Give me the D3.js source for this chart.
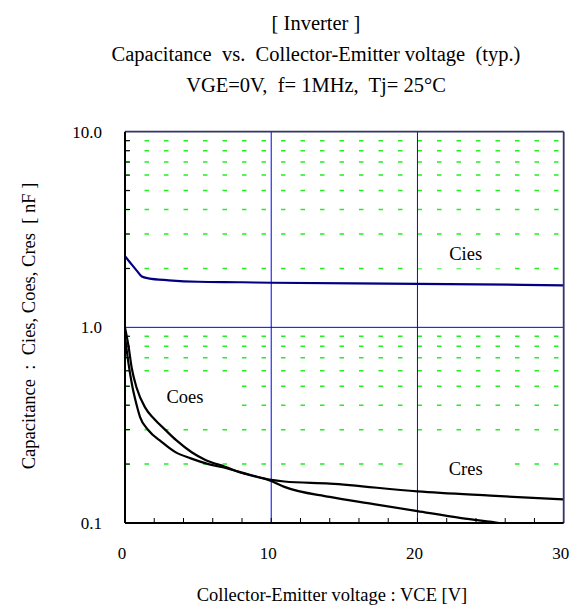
<!DOCTYPE html>
<html>
<head>
<meta charset="utf-8">
<script src="https://cdn.jsdelivr.net/npm/d3@7"></script>
<style>
    body { margin: 0; background: #fff; }
</style>
</head>
<body>
<svg id="chart" width="571" height="610" font-family="'Liberation Serif', Tinos, 'Times New Roman', Times, serif"></svg>
<script>
// Values
let titleLines = ["[ Inverter ]", "Capacitance  vs.  Collector-Emitter voltage  (typ.)", "VGE=0V,  f= 1MHz,  Tj= 25°C"];
let xTicks = [0, 10, 20, 30];
let yTicks = [0.1, 1, 10];
let yTickLabels = ["0.1", "1.0", "10.0"];

let ciesV = [0, 0.4, 0.8, 1.15, 1.6, 3, 5, 8, 10, 20, 30];
let cies = [2.31, 2.12, 1.95, 1.82, 1.78, 1.74, 1.71, 1.70, 1.69, 1.67, 1.64];

let coesV = [0, 0.23, 0.46, 0.8, 1.37, 2, 2.74, 3.5, 4.56, 5.5, 6.84, 8, 10, 10.9, 14, 17, 20, 23, 25.6, 28];
let coes = [1.0, 0.81, 0.62, 0.49, 0.39, 0.34, 0.30, 0.265, 0.23, 0.21, 0.194, 0.18, 0.164, 0.153, 0.136, 0.125, 0.115, 0.106, 0.1, 0.094];

let cresV = [0, 0.23, 0.5, 0.8, 1.03, 1.6, 2.5, 3.42, 4.5, 5.7, 7, 8, 10, 10.9, 14, 20, 25, 30];
let cres = [0.9, 0.66, 0.5, 0.4, 0.348, 0.298, 0.26, 0.231, 0.214, 0.2, 0.19, 0.181, 0.166, 0.163, 0.159, 0.145, 0.138, 0.132];

let labels = [
    { text: "Cies", v: 23.3, c: 2.2 },
    { text: "Coes", v: 4.1, c: 0.41 },
    { text: "Cres", v: 23.3, c: 0.175 }
];

let margin = { top: 131.7, right: 7.3, bottom: 87, left: 125 };
let width = 571 - margin.left - margin.right;
let height = 610 - margin.top - margin.bottom;

let svg = d3.select("#chart");

// Titles
svg.selectAll(".title")
    .data(titleLines)
    .enter().append("text")
    .attr("class", "title")
    .attr("x", 316)
    .attr("y", (d, i) => 30 + i * 31)
    .attr("text-anchor", "middle")
    .attr("xml:space", "preserve")
    .style("font-size", "20.5px")
    .text(d => d);

let g = svg.append("g")
    .attr("transform", `translate(${margin.left},${margin.top})`);

let x = d3.scaleLinear().domain([0, 30]).range([0, width]);
let y = d3.scaleLog().domain([0.1, 10]).range([height, 0]);

// minor log values
let minors = [];
[0.1, 1].forEach(dec => {
    for (let k = 2; k <= 9; k++) minors.push(dec * k);
});

// Green dotted grid
g.selectAll(".minor")
    .data(minors)
    .enter().append("line")
    .attr("x1", 0)
    .attr("x2", width)
    .attr("y1", d => y(d))
    .attr("y2", d => y(d))
    .attr("stroke", "#22ee22")
    .attr("stroke-width", 1.5)
    .attr("stroke-dasharray", "4.5,15");

// Label boxes (white background covers the grid)
let labelG = g.selectAll(".lbl")
    .data(labels)
    .enter().append("g");
labelG.append("rect")
    .attr("x", d => x(d.v) - 48)
    .attr("y", d => y(d.c) - 20)
    .attr("width", 96)
    .attr("height", 28)
    .attr("fill", "#fff");
labelG.append("text")
    .attr("x", d => x(d.v))
    .attr("y", d => y(d.c))
    .attr("text-anchor", "middle")
    .style("font-size", "18.5px")
    .text(d => d.text);

// Blue major grid
g.selectAll(".vgrid")
    .data([10, 20])
    .enter().append("line")
    .attr("x1", d => x(d))
    .attr("x2", d => x(d))
    .attr("y1", 0)
    .attr("y2", height)
    .attr("stroke", "#0000ff")
    .attr("stroke-width", 1);
g.append("line")
    .attr("x1", 0)
    .attr("x2", width)
    .attr("y1", y(1))
    .attr("y2", y(1))
    .attr("stroke", "#0000ff")
    .attr("stroke-width", 1);

// Curves
g.append("clipPath").attr("id", "clip")
    .append("rect").attr("width", width).attr("height", height);

let line = d3.line()
    .x(d => x(d[0]))
    .y(d => y(d[1]))
    .curve(d3.curveMonotoneX);

let series = [
    { v: ciesV, c: cies, color: "#000080" },
    { v: coesV, c: coes, color: "#000" },
    { v: cresV, c: cres, color: "#000" }
];
series.forEach(s => {
    g.append("path")
        .datum(s.v.map((v, i) => [v, s.c[i]]))
        .attr("clip-path", "url(#clip)")
        .attr("fill", "none")
        .attr("stroke", s.color)
        .attr("stroke-width", 2.2)
        .attr("d", line);
});

// Frame: top/right navy, left/bottom black
g.append("line").attr("x1", 0).attr("x2", width).attr("y1", 0).attr("y2", 0)
    .attr("stroke", "#333366").attr("stroke-width", 1.8);
g.append("line").attr("x1", width).attr("x2", width).attr("y1", 0).attr("y2", height)
    .attr("stroke", "#333366").attr("stroke-width", 1.8);

// Minor ticks
g.selectAll(".ytick")
    .data(minors)
    .enter().append("line")
    .attr("x1", 0).attr("x2", 5)
    .attr("y1", d => y(d)).attr("y2", d => y(d))
    .attr("stroke", "#000").attr("stroke-width", 1);
g.selectAll(".xtick")
    .data(d3.range(2, 30, 2))
    .enter().append("line")
    .attr("x1", d => x(d)).attr("x2", d => x(d))
    .attr("y1", height).attr("y2", height - 5)
    .attr("stroke", "#000").attr("stroke-width", 1);

g.append("line").attr("x1", 0).attr("x2", 0).attr("y1", 0).attr("y2", height)
    .attr("stroke", "#000").attr("stroke-width", 2);
g.append("line").attr("x1", 0).attr("x2", width).attr("y1", height).attr("y2", height)
    .attr("stroke", "#000").attr("stroke-width", 2);

// Tick labels
g.selectAll(".xlab")
    .data(xTicks)
    .enter().append("text")
    .attr("x", d => x(d) - 3)
    .attr("y", height + 36)
    .attr("text-anchor", "middle")
    .style("font-size", "17px")
    .text(d => d);
g.selectAll(".ylab")
    .data(yTicks)
    .enter().append("text")
    .attr("x", -23)
    .attr("y", d => y(d) + 6)
    .attr("text-anchor", "end")
    .style("font-size", "17px")
    .text((d, i) => yTickLabels[i]);

// Axis titles
svg.append("text")
    .attr("x", 332)
    .attr("y", 601)
    .attr("text-anchor", "middle")
    .style("font-size", "18.5px")
    .text("Collector-Emitter voltage : VCE [V]");
svg.append("text")
    .attr("transform", "translate(35,326) rotate(-90)")
    .attr("text-anchor", "middle")
    .attr("xml:space", "preserve")
    .style("font-size", "18.5px")
    .text("Capacitance  :  Cies, Coes, Cres  [ nF ]");
</script>
</body>
</html>
